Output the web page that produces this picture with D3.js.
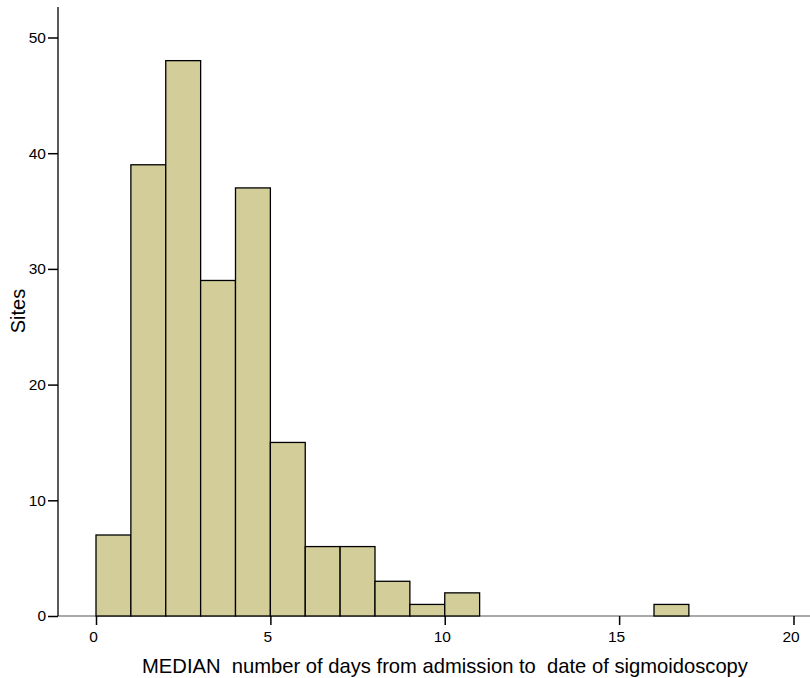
<!DOCTYPE html>
<html><head><meta charset="utf-8">
<script src="https://cdn.jsdelivr.net/npm/d3@7"></script>
<style>body{margin:0;background:#fff;} text{font-family:Arial,"Liberation Sans",sans-serif;}</style>
</head><body>
<svg id="c" width="810" height="678"></svg>
<script>
const binStarts = [0,1,2,3,4,5,6,7,8,9,10,16];
const counts    = [7,39,48,29,37,15,6,6,3,1,2,1];
const xTicks = [0,5,10,15,20];
const yTicks = [0,10,20,30,40,50];
const xLabel = "MEDIAN  number of days from admission to  date of sigmoidoscopy";
const yLabel = "Sites";

const svg = d3.select("#c");
const x = d3.scaleLinear().domain([0,20]).range([96,793.5]);
const y = d3.scaleLinear().domain([0,50]).range([616,37.5]);

// x axis baseline
svg.append("line").attr("x1",58).attr("x2",810).attr("y1",y(0)).attr("y2",y(0))
  .attr("stroke","#555").attr("stroke-width",1.2);

// bars
svg.selectAll("rect.bar").data(binStarts).enter().append("rect")
  .attr("x",d=>x(d)).attr("width",d=>x(d+1)-x(d))
  .attr("y",(d,i)=>y(counts[i])).attr("height",(d,i)=>y(0)-y(counts[i]))
  .attr("fill","#d3ce99").attr("stroke","#000").attr("stroke-width",1.3);

// y axis
const ya = svg.append("g").attr("transform","translate(58,0)")
  .call(d3.axisLeft(y).tickValues(yTicks).tickSize(10).tickPadding(2).tickFormat(d3.format("d")));
ya.select(".domain").remove();
ya.selectAll("line").attr("stroke","#000").attr("stroke-width",1.5);
ya.selectAll("text").style("font-size","15.5px").attr("fill","#000");
svg.append("line").attr("x1",58).attr("x2",58).attr("y1",7).attr("y2",y(0))
  .attr("stroke","#000").attr("stroke-width",1.3);

// x axis
const xa = svg.append("g").attr("transform",`translate(0,${y(0)})`)
  .call(d3.axisBottom(x).tickValues(xTicks).tickSize(9).tickPadding(0).tickFormat(d3.format("d")));
xa.select(".domain").remove();
xa.selectAll("line").attr("stroke","#000").attr("stroke-width",1.5);
xa.selectAll("text").attr("dy",null).attr("y",26).attr("dx",-3).style("font-size","15.5px").attr("fill","#000");

svg.append("text").attr("x",445).attr("y",673).attr("text-anchor","middle")
  .style("font-size","20.2px").attr("fill","#000").attr("xml:space","preserve").style("white-space","pre").text(xLabel);
svg.append("text").attr("transform","translate(25,311) rotate(-90)").attr("text-anchor","middle")
  .style("font-size","20px").attr("fill","#000").text(yLabel);
</script>
</body></html>
